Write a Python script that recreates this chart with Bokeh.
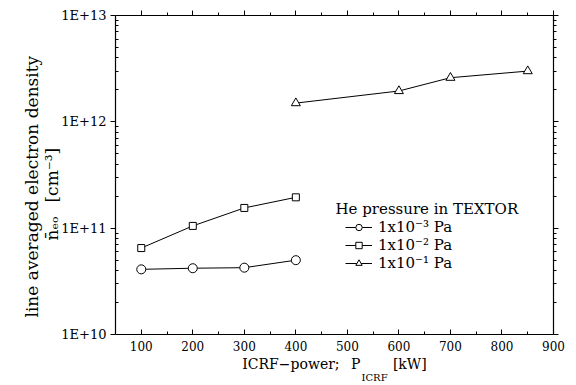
from bokeh.plotting import figure
from bokeh.models import (Range1d, LogAxis, LinearAxis, FixedTicker, Label,
                          Legend, LegendItem, Title)
from bokeh.embed import file_html
from bokeh.resources import INLINE

# ---- data ----
power_p3 = [100, 200, 300, 400]
dens_p3 = [4.1e10, 4.2e10, 4.25e10, 5.0e10]
power_p2 = [100, 200, 300, 400]
dens_p2 = [6.5e10, 1.05e11, 1.55e11, 1.95e11]
power_p1 = [400, 600, 700, 850]
dens_p1 = [1.5e12, 1.95e12, 2.6e12, 3.0e12]

x_ticks = [100, 200, 300, 400, 500, 600, 700, 800, 900]
x_minor = [150, 250, 350, 450, 550, 650, 750, 850]
y_ticks = [1e10, 1e11, 1e12, 1e13]
y_tick_labels = ["1E+10", "1E+11", "1E+12", "1E+13"]
legend_title = "He pressure in TEXTOR"
legend_labels = ["1x10\u207b\u00b3 Pa", "1x10\u207b\u00b2 Pa", "1x10\u207b\u00b9 Pa"]
y_title_1 = "line averaged electron density"
y_title_2 = "n\u0304\u2091\u2092\u2002 [cm\u207b\u00b3]"
x_title_main = "ICRF\u2212power;\u2002 P\u2003\u2003 [kW]"
x_title_sub = "ICRF"

FONT = "DejaVu Serif"
y_minor = [m * 10.0 ** e for e in (10, 11, 12) for m in range(2, 10)]

p = figure(width=576, height=385, x_range=Range1d(50, 900),
           y_range=Range1d(1e10, 1e13), y_axis_type="log",
           x_axis_location=None, y_axis_location=None,
           output_backend="svg", toolbar_location=None,
           min_border_left=115, min_border_right=23,
           min_border_top=15, min_border_bottom=51)
p.grid.visible = False
p.outline_line_color = None
p.background_fill_color = "white"
p.border_fill_color = "white"

def style(ax, tin, tout, minin, minout, size="12px"):
    ax.major_tick_in = tin
    ax.major_tick_out = tout
    ax.minor_tick_in = minin
    ax.minor_tick_out = minout
    ax.axis_line_color = "black"
    ax.axis_line_width = 1.2
    ax.major_tick_line_color = "black"
    ax.minor_tick_line_color = "black"
    ax.major_label_text_font = FONT
    ax.major_label_text_font_size = size
    ax.major_label_text_color = "black"
    ax.major_label_standoff = 4

xt = FixedTicker(ticks=x_ticks, minor_ticks=x_minor)
yt = FixedTicker(ticks=y_ticks, minor_ticks=y_minor)

bottom = LinearAxis(ticker=xt)
style(bottom, 5, 0, 3, 0)
bottom.major_label_standoff = 6
bottom.axis_label = x_title_main
bottom.axis_label_text_font = FONT
bottom.axis_label_text_font_size = "14px"
bottom.axis_label_text_font_style = "normal"
bottom.axis_label_text_color = "black"
bottom.axis_label_standoff = 2
top = LinearAxis(ticker=xt, major_label_overrides={t: "" for t in x_ticks})
style(top, 0, 5, 0, 3)
left = LogAxis(ticker=yt,
               major_label_overrides={t: l for t, l in zip(y_ticks, y_tick_labels)})
style(left, 0, 5, 3, 0, size="13px")
right = LogAxis(ticker=yt, major_label_overrides={t: "" for t in y_ticks})
style(right, 0, 5, 0, 3)
p.add_layout(bottom, "below")
p.add_layout(top, "above")
p.add_layout(left, "left")
p.add_layout(right, "right")

# axis titles built from Title objects in the side panels
p.add_layout(Title(text=y_title_2, align="left", offset=94, standoff=-7,
                   text_font=FONT, text_font_size="17px",
                   text_font_style="normal", text_color="black"), "left")
p.add_layout(Title(text=y_title_1, align="left", offset=17, standoff=4,
                   text_font=FONT, text_font_size="17px",
                   text_font_style="normal", text_color="black"), "left")
p.add_layout(Title(text=x_title_sub, align="left", offset=246, standoff=-9,
                   text_font=FONT, text_font_size="10px",
                   text_font_style="normal", text_color="black"), "below")

r1l = p.line(power_p3, dens_p3, line_color="black", line_width=1)
r1m = p.scatter(power_p3, dens_p3, marker="circle", size=9, line_color="black",
                fill_color="white", line_width=1)
r2l = p.line(power_p2, dens_p2, line_color="black", line_width=1)
r2m = p.scatter(power_p2, dens_p2, marker="square", size=7, line_color="black",
                fill_color="white", line_width=1)
r3l = p.line(power_p1, dens_p1, line_color="black", line_width=1)
r3m = p.scatter(power_p1, dens_p1, marker="triangle", size=9, line_color="black",
                fill_color="white", line_width=1)

legend = Legend(items=[LegendItem(label=legend_labels[0], renderers=[r1l, r1m]),
                       LegendItem(label=legend_labels[1], renderers=[r2l, r2m]),
                       LegendItem(label=legend_labels[2], renderers=[r3l, r3m])],
                location=(230, 62), padding=0, margin=0, spacing=0,
                border_line_color=None, background_fill_color=None,
                glyph_width=27, glyph_height=16, label_height=16,
                label_standoff=6, label_text_font=FONT,
                label_text_font_size="15px", label_text_color="black")
p.add_layout(legend, "center")

p.add_layout(Label(x=335, y=208, x_units="canvas", y_units="canvas",
                   text=legend_title, text_font=FONT, text_font_size="15px",
                   text_baseline="middle", text_color="black"))

open("out.html", "w").write(file_html(p, INLINE))
